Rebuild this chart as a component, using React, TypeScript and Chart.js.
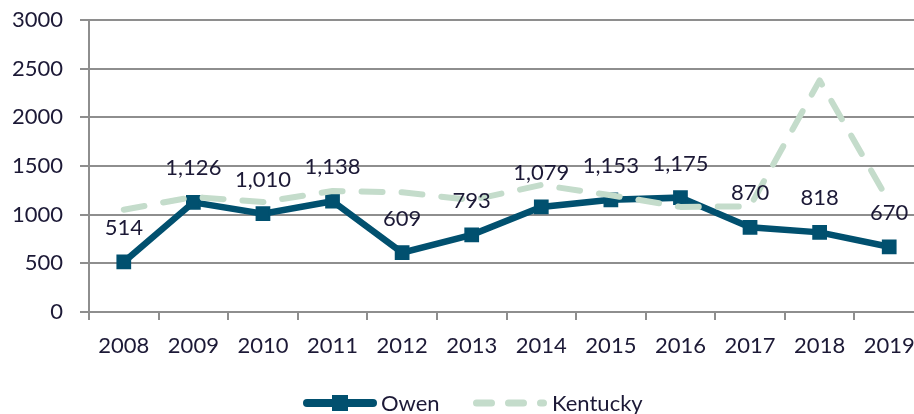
import React, { useEffect, useRef } from "react";
import { Chart, registerables } from "chart.js";

Chart.register(...registerables);

const years = ["2008", "2009", "2010", "2011", "2012", "2013", "2014", "2015", "2016", "2017", "2018", "2019"];
const owen = [514, 1126, 1010, 1138, 609, 793, 1079, 1153, 1175, 870, 818, 670];
const kentucky = [1050, 1182, 1130, 1243, 1230, 1150, 1305, 1200, 1080, 1085, 2380, 1130];
const yTicks = [0, 500, 1000, 1500, 2000, 2500, 3000];

const OWEN_COLOR = "#01506f";
const KY_COLOR = "#c4dccb";
const TEXT_COLOR = "#1c1936";
const GRID_COLOR = "#8e8e8e";
const FONT = "Lato";
const FSIZE = 22;

const labelPlugin = {
  id: "owenLabels",
  afterDatasetsDraw(chart: any) {
    const ctx = chart.ctx;
    const meta = chart.getDatasetMeta(0);
    ctx.save();
    ctx.font = `${FSIZE}px ${FONT}`;
    ctx.fillStyle = TEXT_COLOR;
    ctx.textAlign = "center";
    ctx.textBaseline = "middle";
    meta.data.forEach((pt: any, i: number) => {
      ctx.fillText(owen[i].toLocaleString("en-US"), pt.x, pt.y - 34);
    });
    ctx.restore();
  },
};

const legendPlugin = {
  id: "customLegend",
  afterDraw(chart: any) {
    const ctx = chart.ctx;
    const y = 403;
    ctx.save();
    ctx.strokeStyle = OWEN_COLOR;
    ctx.lineWidth = 8;
    ctx.lineCap = "round";
    ctx.beginPath();
    ctx.moveTo(307, y);
    ctx.lineTo(373, y);
    ctx.stroke();
    ctx.fillStyle = OWEN_COLOR;
    ctx.fillRect(332, y - 8, 16, 16);
    ctx.strokeStyle = KY_COLOR;
    ctx.lineWidth = 7;
    ctx.setLineDash([15, 17]);
    ctx.beginPath();
    ctx.moveTo(476.5, y);
    ctx.lineTo(543.5, y);
    ctx.stroke();
    ctx.setLineDash([]);
    ctx.font = `${FSIZE}px ${FONT}`;
    ctx.fillStyle = TEXT_COLOR;
    ctx.textAlign = "left";
    ctx.textBaseline = "middle";
    ctx.fillText("Owen", 381, y + 1);
    ctx.fillText("Kentucky", 552, y + 1);
    ctx.restore();
  },
};

export default function App() {
  const ref = useRef<HTMLCanvasElement>(null);
  useEffect(() => {
    if (!ref.current) return;
    const chart = new Chart(ref.current, {
      type: "line",
      data: {
        labels: years,
        datasets: [
          {
            label: "Owen",
            data: owen,
            borderColor: OWEN_COLOR,
            backgroundColor: OWEN_COLOR,
            borderWidth: 6.5,
            pointStyle: "rect",
            pointRadius: 9,
            pointBorderWidth: 2,
            pointBorderColor: OWEN_COLOR,
            pointBackgroundColor: OWEN_COLOR,
            tension: 0,
            order: 1,
          },
          {
            label: "Kentucky",
            data: kentucky,
            borderColor: KY_COLOR,
            backgroundColor: KY_COLOR,
            borderWidth: 6,
            borderDash: [21, 19],
            borderCapStyle: "round",
            borderJoinStyle: "round",
            pointRadius: 0,
            tension: 0,
            order: 0,
          },
        ],
      },
      options: {
        animation: false,
        responsive: false,
        devicePixelRatio: 1,
        layout: { padding: { top: 20, right: 16, bottom: 0, left: 0 } },
        plugins: { legend: { display: false }, tooltip: { enabled: false } },
        scales: {
          x: {
            offset: true,
            grid: {
              offset: true,
              drawOnChartArea: false,
              drawTicks: true,
              tickLength: 8,
              color: GRID_COLOR,
              lineWidth: 2,
            },
            border: { display: true, color: GRID_COLOR, width: 2 },
            ticks: {
              color: TEXT_COLOR,
              font: { family: FONT, size: FSIZE },
              padding: 13,
              maxRotation: 0,
              autoSkip: false,
            },
            afterFit: (s: any) => {
              s.height = 118;
            },
          },
          y: {
            min: 0,
            max: 3000,
            afterBuildTicks: (s: any) => {
              s.ticks = yTicks.map((v) => ({ value: v }));
            },
            grid: { color: GRID_COLOR, lineWidth: 2, tickLength: 9 },
            border: { display: true, color: GRID_COLOR, width: 2 },
            ticks: {
              color: TEXT_COLOR,
              font: { family: FONT, size: FSIZE },
              padding: 17,
              callback: (v: any) => String(v),
            },
            afterFit: (s: any) => {
              s.width = 89;
              s.paddingTop = 0;
              s.paddingBottom = 0;
            },
          },
        },
      },
      plugins: [labelPlugin, legendPlugin],
    });
    return () => chart.destroy();
  }, []);
  return (
    <div style={{ position: "fixed", left: 0, top: 0, width: 914, height: 414, overflow: "hidden", background: "#fff" }}>
      <canvas ref={ref} width={940} height={430} style={{ display: "block", width: 940, height: 430 }} />
    </div>
  );
}
